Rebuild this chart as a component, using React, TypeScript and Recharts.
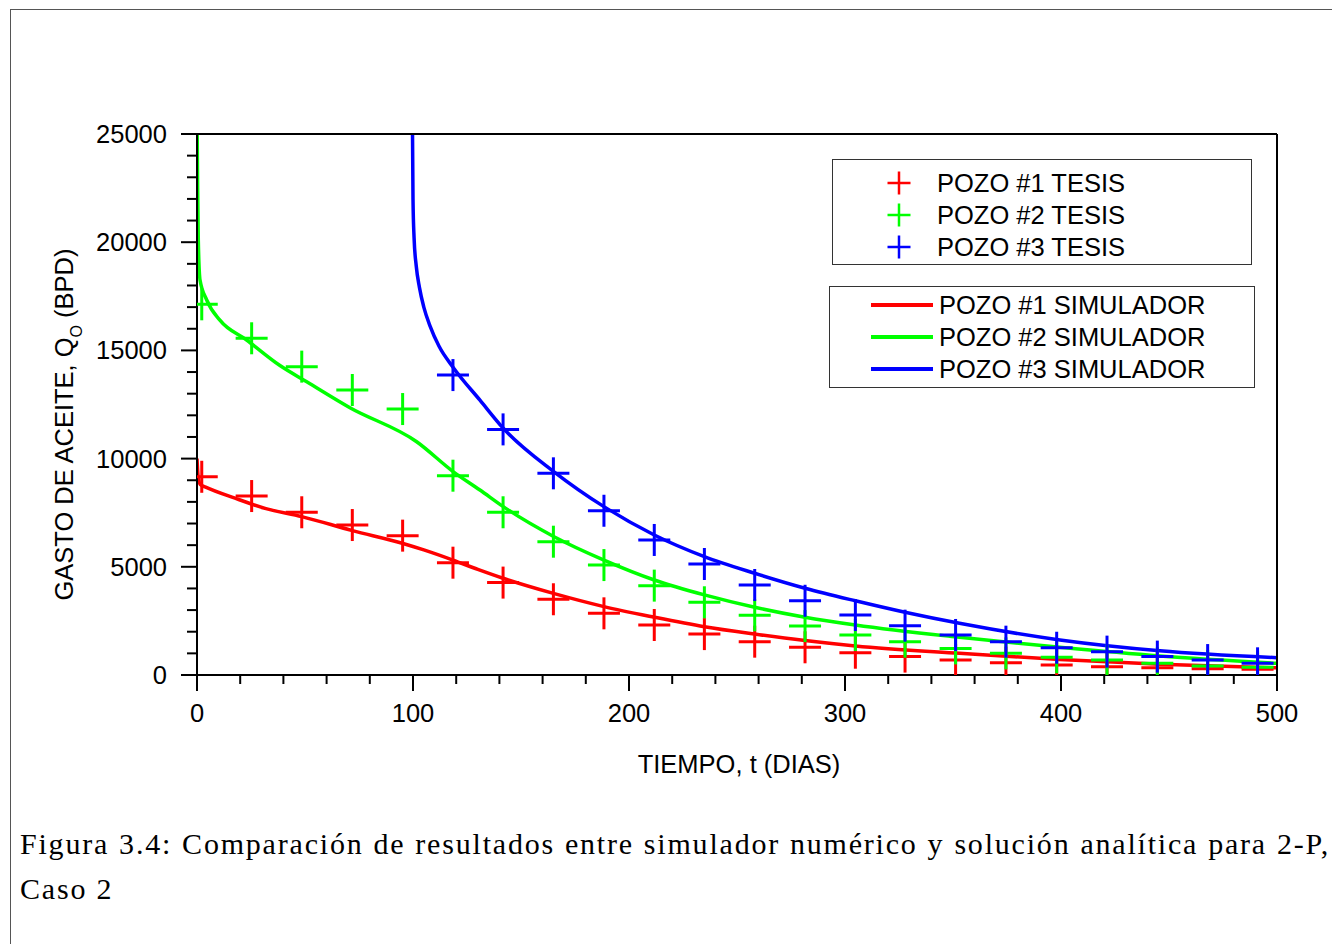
import { ComposedChart, Line, Scatter, XAxis, YAxis, Legend, Label } from 'recharts'

// dias de los puntos TESIS (los mismos para los tres pozos)
const tesisDias = [2.2, 25.3, 48.5, 71.9, 95.2, 118.5, 141.7, 165, 188.4, 211.7, 234.9, 258.2, 281.5, 304.8, 327.8, 351.2, 374.5, 398, 421.3, 444.6, 467.9, 491]
const pozo1Tesis = [9160, 8270, 7520, 6930, 6440, 5190, 4270, 3500, 2850, 2310, 1890, 1540, 1280, 1030, 850, 690, 570, 460, 385, 340, 290, 260]
const pozo2Tesis = [17130, 15560, 14250, 13170, 12290, 9210, 7520, 6160, 5080, 4130, 3360, 2760, 2260, 1850, 1540, 1230, 1000, 820, 690, 540, 415, 355]
// pozo 3 empieza en el sexto punto (t ~ 118)
const pozo3Tesis = [13860, 11350, 9320, 7590, 6240, 5130, 4160, 3430, 2770, 2280, 1850, 1540, 1260, 1080, 850, 690, 540]

const pozo1SimDias = [0, 0.5, 1.5, 4, 17.6, 31.5, 48.5, 72, 95, 105, 118.5, 130, 141.7, 165, 188.4, 211.7, 234.9, 258.2, 281.5, 304.8, 353, 399.5, 445.8, 500]
const pozo1Sim = [10000, 9200, 8800, 8680, 8170, 7700, 7320, 6670, 6090, 5780, 5310, 4880, 4470, 3770, 3160, 2670, 2230, 1890, 1590, 1340, 1000, 720, 500, 330]

const pozo2SimDias = [0, 0.3, 0.6, 1.4, 4.5, 10.6, 23, 38.4, 50.8, 70.8, 101.7, 118.7, 131, 141.8, 165.3, 188.4, 211.7, 234.9, 258.2, 281.5, 304.8, 353, 399.5, 445.8, 500]
const pozo2Sim = [26000, 22500, 20100, 18250, 17330, 16400, 15480, 14300, 13550, 12350, 10780, 9390, 8550, 7780, 6390, 5310, 4390, 3700, 3130, 2670, 2310, 1740, 1280, 880, 540]

const pozo3SimDias = [99.7, 100, 100.5, 101.5, 103, 105, 108, 112, 118.7, 131, 141.8, 165.3, 188.4, 211.7, 234.9, 258.2, 281.5, 304.8, 327.8, 353, 399.5, 445.8, 500]
const pozo3Sim = [26000, 22000, 20200, 18900, 17900, 17000, 16100, 15200, 14200, 12700, 11400, 9390, 7780, 6470, 5470, 4700, 4010, 3430, 2900, 2390, 1620, 1120, 800]

const xTicks = [0, 20, 40, 60, 80, 100, 120, 140, 160, 180, 200, 220, 240, 260, 280, 300, 320, 340, 360, 380, 400, 420, 440, 460, 480, 500]
const yTicks = [0, 1000, 2000, 3000, 4000, 5000, 6000, 7000, 8000, 9000, 10000, 11000, 12000, 13000, 14000, 15000, 16000, 17000, 18000, 19000, 20000, 21000, 22000, 23000, 24000, 25000]

const toPts = (dias: number[], q: number[]) => q.map((v, i) => ({ t: dias[i], q: v }))

const RED = '#ff0000'
const GREEN = '#00ff00'
const BLUE = '#0000ff'
const FONT = "'Liberation Sans', Arial, sans-serif"
const FS = 25.5

const plus = (color: string, h: number) => (props: any) => {
  const { cx, cy } = props
  return (
    <g>
      <line x1={cx - h} x2={cx + h} y1={cy} y2={cy} stroke={color} strokeWidth={3} />
      <line x1={cx} x2={cx} y1={cy - h} y2={cy + h} stroke={color} strokeWidth={3} />
    </g>
  )
}

const BottomTick = (props: any) => {
  const { x, y, payload } = props
  const major = payload.value % 100 === 0
  return (
    <g>
      <line x1={x} x2={x} y1={y} y2={y + (major ? 16 : 9)} stroke="#000" strokeWidth={2} />
      {major && (
        <text x={x} y={y + 47} textAnchor="middle" fontSize={FS} fontFamily={FONT} fill="#000">
          {payload.value}
        </text>
      )}
    </g>
  )
}

const TopTick = (props: any) => {
  const { x, y, payload } = props
  const major = payload.value % 100 === 0
  return <line x1={x} x2={x} y1={y} y2={y + (major ? 16 : 9)} stroke="#000" strokeWidth={2} />
}

const LeftTick = (props: any) => {
  const { x, y, payload } = props
  const major = payload.value % 5000 === 0
  return (
    <g>
      <line x1={x} x2={x - (major ? 16 : 10)} y1={y} y2={y} stroke="#000" strokeWidth={2} />
      {major && (
        <text x={x - 30} y={y + 9} textAnchor="end" fontSize={FS} fontFamily={FONT} fill="#000">
          {payload.value}
        </text>
      )}
    </g>
  )
}

const RightTick = (props: any) => {
  const { x, y, payload } = props
  const major = payload.value % 5000 === 0
  return <line x1={x} x2={x - (major ? 16 : 10)} y1={y} y2={y} stroke="#000" strokeWidth={2} />
}

const XTitle = (props: any) => {
  const vb = props.viewBox
  return (
    <text x={vb.x + vb.width / 2 + 2} y={vb.y + 98} textAnchor="middle" fontSize={FS} fontFamily={FONT} fill="#000">
      TIEMPO, t (DIAS)
    </text>
  )
}

const YTitle = (props: any) => {
  const vb = props.viewBox
  const cx = vb.x - 44
  const cy = vb.y + vb.height / 2 + 20
  return (
    <text x={cx} y={cy} transform={`rotate(-90, ${cx}, ${cy})`} textAnchor="middle" fontSize={FS} fontFamily={FONT} fill="#000">
      GASTO DE ACEITE, Q
      <tspan fontSize={16} dy={9}>O</tspan>
      <tspan dy={-9}> (BPD)</tspan>
    </text>
  )
}

const rowText: React.CSSProperties = {
  position: 'absolute',
  fontSize: FS,
  lineHeight: '30px',
  fontFamily: FONT,
  color: '#000',
  whiteSpace: 'nowrap',
}

const LegendBoxes = () => {
  const tesis = [
    { c: RED, n: 'POZO #1 TESIS' },
    { c: GREEN, n: 'POZO #2 TESIS' },
    { c: BLUE, n: 'POZO #3 TESIS' },
  ]
  const sim = [
    { c: RED, n: 'POZO #1 SIMULADOR' },
    { c: GREEN, n: 'POZO #2 SIMULADOR' },
    { c: BLUE, n: 'POZO #3 SIMULADOR' },
  ]
  return (
    <div style={{ position: 'relative', width: 430, height: 240 }}>
      <div style={{ position: 'absolute', left: 3, top: 0, width: 420, height: 106, border: '1px solid #333', boxSizing: 'border-box' }}>
        {tesis.map((r, i) => (
          <div key={r.n}>
            <svg width={24} height={24} style={{ position: 'absolute', left: 54, top: 22.7 + i * 32 - 12 }}>
              <line x1={0.5} x2={23.5} y1={12} y2={12} stroke={r.c} strokeWidth={2.5} />
              <line x1={12} x2={12} y1={0.5} y2={23.5} stroke={r.c} strokeWidth={2.5} />
            </svg>
            <div style={{ ...rowText, left: 104, top: 22.7 + i * 32 - 15 }}>{r.n}</div>
          </div>
        ))}
      </div>
      <div style={{ position: 'absolute', left: 0, top: 127, width: 426, height: 102, border: '1px solid #333', boxSizing: 'border-box' }}>
        {sim.map((r, i) => (
          <div key={r.n}>
            <svg width={64} height={8} style={{ position: 'absolute', left: 40, top: 18.3 + i * 32 - 4 }}>
              <line x1={1} x2={63} y1={4} y2={4} stroke={r.c} strokeWidth={4} />
            </svg>
            <div style={{ ...rowText, left: 109, top: 18.3 + i * 32 - 15 }}>{r.n}</div>
          </div>
        ))}
      </div>
    </div>
  )
}

export default function App() {
  const t1 = toPts(tesisDias, pozo1Tesis)
  const t2 = toPts(tesisDias, pozo2Tesis)
  const t3 = toPts(tesisDias.slice(5), pozo3Tesis)
  const s1 = toPts(pozo1SimDias, pozo1Sim)
  const s2 = toPts(pozo2SimDias, pozo2Sim)
  const s3 = toPts(pozo3SimDias, pozo3Sim)

  return (
    <div style={{ position: 'relative', width: 1330, height: 936 }}>
      <div style={{ position: 'absolute', left: 2, top: 1, width: 1327, height: 960, border: '1px solid #555', borderBottom: 'none', boxSizing: 'border-box' }} />
      <div style={{ position: 'absolute', left: 0, top: 0 }}>
        <ComposedChart width={1324} height={800} margin={{ top: 106, right: 35, bottom: 73, left: 109 }}>
          <XAxis
            dataKey="t"
            type="number"
            domain={[0, 500]}
            ticks={xTicks}
            interval={0}
            allowDataOverflow
            tickSize={0}
            tickMargin={0}
            tick={BottomTick}
            axisLine={{ stroke: '#000', strokeWidth: 2 }}
            height={60}
          >
            <Label content={XTitle} />
          </XAxis>
          <XAxis
            xAxisId="top"
            orientation="top"
            type="number"
            domain={[0, 500]}
            ticks={xTicks}
            interval={0}
            tickSize={0}
            tickMargin={0}
            tick={TopTick}
            axisLine={{ stroke: '#000', strokeWidth: 2 }}
            height={20}
          />
          <YAxis
            dataKey="q"
            type="number"
            domain={[0, 25000]}
            ticks={yTicks}
            interval={0}
            allowDataOverflow
            tickSize={0}
            tickMargin={0}
            tick={LeftTick}
            axisLine={{ stroke: '#000', strokeWidth: 2 }}
            width={80}
          >
            <Label content={YTitle} />
          </YAxis>
          <YAxis
            yAxisId="right"
            orientation="right"
            type="number"
            domain={[0, 25000]}
            ticks={yTicks}
            interval={0}
            tickSize={0}
            tickMargin={0}
            tick={RightTick}
            axisLine={{ stroke: '#000', strokeWidth: 2 }}
            width={20}
          />
          <Scatter name="POZO #1 TESIS" data={t1} shape={plus(RED, 16)} isAnimationActive={false} />
          <Scatter name="POZO #2 TESIS" data={t2} shape={plus(GREEN, 16)} isAnimationActive={false} />
          <Scatter name="POZO #3 TESIS" data={t3} shape={plus(BLUE, 16)} isAnimationActive={false} />
          <Line name="POZO #1 SIMULADOR" data={s1} dataKey="q" type="monotone" stroke={RED} strokeWidth={3.5} dot={false} activeDot={false} isAnimationActive={false} />
          <Line name="POZO #2 SIMULADOR" data={s2} dataKey="q" type="monotone" stroke={GREEN} strokeWidth={3.5} dot={false} activeDot={false} isAnimationActive={false} />
          <Line name="POZO #3 SIMULADOR" data={s3} dataKey="q" type="monotone" stroke={BLUE} strokeWidth={3.5} dot={false} activeDot={false} isAnimationActive={false} />
          <Legend
            layout="vertical"
            align="center"
            verticalAlign="middle"
            wrapperStyle={{ left: 821, top: 151, width: 430, height: 240 }}
            content={() => <LegendBoxes />}
          />
        </ComposedChart>
      </div>
      <div style={{ position: 'absolute', left: 12, top: 813, width: 1310, fontFamily: "'Liberation Serif', 'Times New Roman', serif", fontSize: 30, letterSpacing: 1.8, lineHeight: '45px', color: '#000' }}>
        <div style={{ textAlign: 'justify', textAlignLast: 'justify', whiteSpace: 'nowrap' }}>
          Figura 3.4: Comparación de resultados entre simulador numérico y solución analítica para 2-P,
        </div>
        <div>Caso 2</div>
      </div>
    </div>
  )
}
